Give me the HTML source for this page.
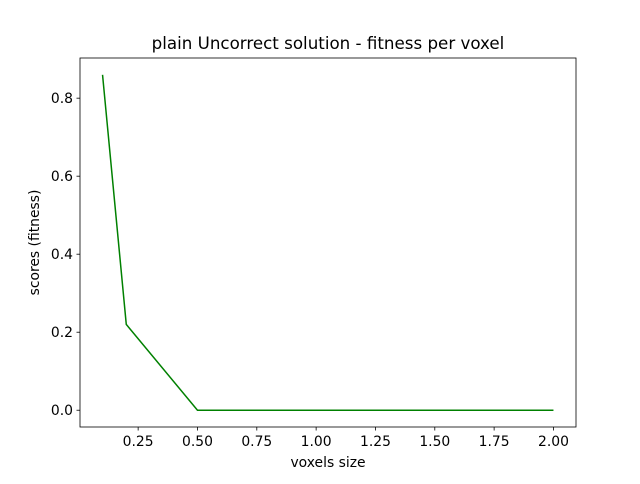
<!DOCTYPE html>
<html><head><meta charset="utf-8"><style>
body{margin:0;background:#fff;font-family:"DejaVu Sans","Liberation Sans",sans-serif}
</style></head><body>
<svg width="640" height="480" xmlns="http://www.w3.org/2000/svg" font-family="DejaVu Sans, Liberation Sans, sans-serif">
<g id="root"></g>
</svg>
<script>
const xs=[0.1,0.2,0.5,1.0,1.5,2.0];
const ys=[0.86,0.22,0.0,0.0,0.0,0.0];
const xTicks=[0.25,0.5,0.75,1.0,1.25,1.5,1.75,2.0];
const xTickLabels=["0.25","0.50","0.75","1.00","1.25","1.50","1.75","2.00"];
const yTicks=[0,0.2,0.4,0.6,0.8];
const yTickLabels=["0.0","0.2","0.4","0.6","0.8"];
const L=80,R=576,T=58,B=427;
const xmin=0.005,xmax=2.095,ymin=-0.043,ymax=0.903;
const sx=v=>L+(v-xmin)/(xmax-xmin)*(R-L);
const sy=v=>B-(v-ymin)/(ymax-ymin)*(B-T);
const NS="http://www.w3.org/2000/svg";
const root=document.getElementById('root');
function mk(t,a,txt){const e=document.createElementNS(NS,t);for(const k in a)e.setAttribute(k,a[k]);if(txt!==undefined)e.textContent=txt;root.appendChild(e);return e;}
let p=mk('polyline',{points:xs.map((x,i)=>sx(x)+','+sy(ys[i])).join(' '),fill:'none',stroke:'#008000','stroke-width':1.5});


xTicks.forEach((v,i)=>{const x=sx(v);
 let l=mk('line',{x1:x,x2:x,y1:B,y2:B+3.5,stroke:'#000','stroke-width':0.8});
 
 
 let t=mk('text',{x:x,y:B+19,'text-anchor':'middle','font-size':13.9,fill:'#000'},xTickLabels[i]);
 
 
});
yTicks.forEach((v,i)=>{const y=sy(v);
 let l=mk('line',{x1:L-3.5,x2:L,y1:y,y2:y,stroke:'#000','stroke-width':0.8});
 
 
 let t=mk('text',{x:L-7,y:y+5,'text-anchor':'end','font-size':13.9,fill:'#000'},yTickLabels[i]);
 
 
});
let f=mk('rect',{x:L,y:T,width:R-L,height:B-T,fill:'none',stroke:'#000','stroke-width':0.8});


let tt=mk('text',{x:(L+R)/2,y:49,'text-anchor':'middle','font-size':16.7},'plain Uncorrect solution - fitness per voxel');


let xl=mk('text',{x:(L+R)/2,y:467,'text-anchor':'middle','font-size':13.9},'voxels size');


let yl=mk('text',{x:0,y:0,'text-anchor':'middle','font-size':13.9,transform:'translate(39,'+((T+B)/2)+') rotate(-90)'},'scores (fitness)');


</script>
</body></html>
